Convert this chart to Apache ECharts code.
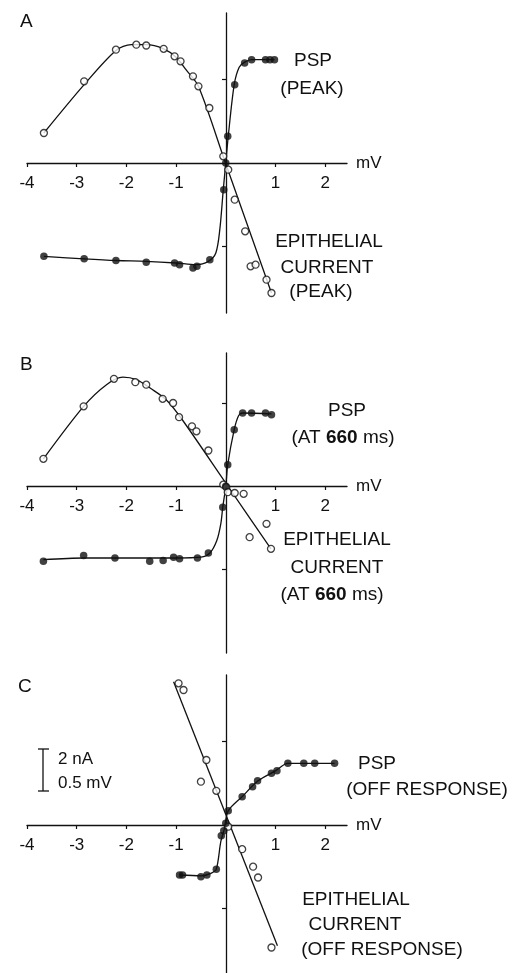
<!DOCTYPE html>
<html>
<head>
<meta charset="utf-8">
<script src="https://cdn.jsdelivr.net/npm/echarts@6/dist/echarts.min.js"></script>
<style>
  html, body { margin: 0; padding: 0; background: #fff; }
</style>
</head>
<body>
<div id="main" style="width: 515px; height: 973px"></div>
<script>
// axis ticks (mV on x, y in units of 1 mV = 4 nA)
const xTicks = [-4, -3, -2, -1, 0, 1, 2]
const xLabels = [-4, -3, -2, -1, 1, 2]
const yTicks = [-1, 1]

// A - peak
const aCurrentPts = [[-3.66, 0.36], [-2.85, 0.98], [-2.21, 1.36], [-1.80, 1.42], [-1.60, 1.41], [-1.25, 1.37], [-1.03, 1.28], [-0.91, 1.22], [-0.66, 1.04], [-0.55, 0.92], [-0.33, 0.66], [-0.05, 0.08], [0.05, -0.08], [0.18, -0.44], [0.39, -0.82], [0.50, -1.24], [0.60, -1.22], [0.82, -1.40], [0.92, -1.56]]
const aCurrentCurve = [[-3.66, 0.36], [-2.85, 0.94], [-2.21, 1.35], [-1.9, 1.42], [-1.6, 1.42], [-1.25, 1.37], [-1.0, 1.27], [-0.8, 1.12], [-0.55, 0.92], [0, -0.01], [0.92, -1.56]]
const aPspPts = [[-3.66, -1.12], [-2.85, -1.15], [-2.21, -1.17], [-1.60, -1.19], [-1.03, -1.20], [-0.93, -1.22], [-0.66, -1.26], [-0.58, -1.24], [-0.32, -1.16], [-0.04, -0.32], [0, 0], [0.04, 0.32], [0.18, 0.94], [0.38, 1.20], [0.52, 1.24], [0.80, 1.24], [0.89, 1.24], [0.98, 1.24]]
const aPspCurve = [[-3.66, -1.12], [-2.85, -1.15], [-2.2, -1.17], [-1.6, -1.18], [-1.0, -1.2], [-0.6, -1.22], [-0.35, -1.18], [-0.2, -1.08], [-0.12, -0.8], [-0.05, -0.32], [0, 0], [0.05, 0.32], [0.17, 0.94], [0.27, 1.15], [0.38, 1.21], [0.52, 1.24], [0.98, 1.24]]

// B - at 660 ms
const bCurrentPts = [[-3.67, 0.33], [-2.86, 0.96], [-2.25, 1.29], [-1.82, 1.25], [-1.60, 1.22], [-1.27, 1.05], [-1.06, 1.00], [-0.94, 0.83], [-0.68, 0.72], [-0.59, 0.66], [-0.35, 0.43], [-0.05, 0.02], [0.01, -0.01], [0.04, -0.07], [0.18, -0.08], [0.36, -0.09], [0.48, -0.61], [0.82, -0.45], [0.91, -0.75]]
const bCurrentCurve = [[-3.67, 0.33], [-2.86, 0.96], [-2.4, 1.22], [-2.07, 1.31], [-1.8, 1.28], [-1.5, 1.17], [-1.2, 1.04], [-0.9, 0.82], [0, 0.04], [0.91, -0.75]]
const bPspPts = [[-3.67, -0.90], [-2.86, -0.83], [-2.23, -0.86], [-1.53, -0.90], [-1.26, -0.89], [-1.05, -0.85], [-0.93, -0.87], [-0.57, -0.86], [-0.35, -0.80], [-0.06, -0.25], [0, 0], [0.04, 0.26], [0.17, 0.68], [0.34, 0.88], [0.52, 0.88], [0.80, 0.88], [0.92, 0.86]]
const bPspCurve = [[-3.67, -0.88], [-2.86, -0.86], [-2, -0.86], [-1, -0.86], [-0.5, -0.85], [-0.32, -0.8], [-0.18, -0.65], [-0.1, -0.45], [-0.06, -0.25], [0, 0], [0.04, 0.26], [0.17, 0.68], [0.26, 0.85], [0.34, 0.88], [0.92, 0.87]]

// C - off response
const cCurrentPts = [[-0.95, 1.70], [-0.85, 1.62], [-0.39, 0.78], [-0.50, 0.52], [-0.19, 0.41], [0.05, -0.02], [0.33, -0.29], [0.55, -0.50], [0.65, -0.63], [0.92, -1.47]]
const cCurrentCurve = [[-1.05, 1.72], [1.04, -1.45]]
const cPspPts = [[-0.93, -0.60], [-0.87, -0.60], [-0.50, -0.62], [-0.38, -0.60], [-0.19, -0.53], [-0.09, -0.13], [-0.04, -0.07], [0, 0.02], [0.05, 0.17], [0.33, 0.34], [0.54, 0.46], [0.64, 0.53], [0.92, 0.62], [1.03, 0.65], [1.25, 0.74], [1.57, 0.74], [1.79, 0.74], [2.19, 0.74]]
const cPspCurve = [[-0.93, -0.60], [-0.5, -0.61], [-0.3, -0.58], [-0.19, -0.53], [-0.1, -0.2], [-0.03, -0.05], [0.05, 0.17], [0.33, 0.34], [0.65, 0.53], [1.0, 0.65], [1.25, 0.74], [2.19, 0.74]]

const ink = '#111'
const font = 'Liberation Sans, Arial, sans-serif'

// offset moves the axis from the grid edge onto the zero line
function xAxisFor(i, offset) {
  return {
    gridIndex: i, type: 'value', min: -4, max: 2.44, position: 'bottom', offset: offset,
    name: 'mV', nameLocation: 'end', nameGap: 9,
    nameTextStyle: { color: ink, fontSize: 17, fontFamily: font },
    axisLine: { onZero: false, lineStyle: { color: ink, width: 1.3 } },
    axisTick: { customValues: xTicks, length: 4, lineStyle: { color: ink, width: 1.2 } },
    axisLabel: { customValues: xLabels, color: ink, fontSize: 17, fontFamily: font, margin: 12 },
    splitLine: { show: false },
  }
}

function yAxisFor(i, min, max) {
  return {
    gridIndex: i, type: 'value', min: min, max: max, position: 'left', offset: -199,
    axisLine: { show: true, onZero: false, lineStyle: { color: ink, width: 1.3 } },
    axisTick: { show: true, customValues: yTicks, length: 4, lineStyle: { color: ink, width: 1.2 } },
    axisLabel: { show: false },
    splitLine: { show: false },
  }
}

function panelSeries(i, curPts, curCurve, pspPts, pspCurve) {
  const line = (data) => ({
    type: 'line', xAxisIndex: i, yAxisIndex: i, data: data,
    smooth: 0.3, showSymbol: false, silent: true,
    lineStyle: { color: ink, width: 1.3 }, z: 2,
  })
  return [
    line(curCurve),
    line(pspCurve),
    {
      type: 'scatter', xAxisIndex: i, yAxisIndex: i, data: curPts,
      symbol: 'circle', symbolSize: 7,
      itemStyle: { color: '#fff', borderColor: ink, borderWidth: 1.3 }, z: 3,
    },
    {
      type: 'scatter', xAxisIndex: i, yAxisIndex: i, data: pspPts,
      symbol: 'circle', symbolSize: 7.5,
      itemStyle: { color: ink }, z: 4,
    },
  ]
}

function txt(x, y, text, size, align, rich) {
  return {
    type: 'text', x: x, y: y, silent: true,
    style: {
      text: text, fill: ink, font: size + 'px ' + font,
      align: align || 'center', verticalAlign: 'middle', rich: rich,
    },
  }
}

function drawChart(id) {
  const chart = echarts.init(document.getElementById(id))
  const bold = { b: { fontWeight: 'bold', fontSize: 19, fontFamily: font, fill: ink } }
  chart.setOption({
    animation: false,
    grid: [
      { left: 27, top: 13, width: 320, height: 300, outerBoundsMode: 'none' },
      { left: 27, top: 353, width: 320, height: 300, outerBoundsMode: 'none' },
      { left: 27, top: 675, width: 320, height: 300, outerBoundsMode: 'none' },
    ],
    xAxis: [xAxisFor(0, -150), xAxisFor(1, -167), xAxisFor(2, -150)],
    yAxis: [yAxisFor(0, -1.8, 1.8), yAxisFor(1, -2.0, 1.6), yAxisFor(2, -1.8, 1.8)],
    series: [].concat(
      panelSeries(0, aCurrentPts, aCurrentCurve, aPspPts, aPspCurve),
      panelSeries(1, bCurrentPts, bCurrentCurve, bPspPts, bPspCurve),
      panelSeries(2, cCurrentPts, cCurrentCurve, cPspPts, cPspCurve)
    ),
    graphic: [
      txt(20, 22, 'A', 19, 'left'),
      txt(20, 365, 'B', 19, 'left'),
      txt(18, 687, 'C', 19, 'left'),
      // panel A notes
      txt(313, 61, 'PSP', 19),
      txt(312, 89, '(PEAK)', 19),
      txt(329, 242, 'EPITHELIAL', 19),
      txt(327, 268, 'CURRENT', 19),
      txt(321, 292, '(PEAK)', 19),
      // panel B notes
      txt(347, 411, 'PSP', 19),
      txt(343, 438, '(AT {b|660} ms)', 19, 'center', bold),
      txt(337, 540, 'EPITHELIAL', 19),
      txt(337, 568, 'CURRENT', 19),
      txt(332, 595, '(AT {b|660} ms)', 19, 'center', bold),
      // panel C notes
      txt(377, 764, 'PSP', 19),
      txt(427, 790, '(OFF RESPONSE)', 19),
      txt(356, 900, 'EPITHELIAL', 19),
      txt(355, 925, 'CURRENT', 19),
      txt(382, 950, '(OFF RESPONSE)', 19),
      // scale bar
      { type: 'line', silent: true, shape: { x1: 43, y1: 749, x2: 43, y2: 791 }, style: { stroke: ink, lineWidth: 1.3 } },
      { type: 'line', silent: true, shape: { x1: 38, y1: 749, x2: 49, y2: 749 }, style: { stroke: ink, lineWidth: 1.3 } },
      { type: 'line', silent: true, shape: { x1: 38, y1: 791, x2: 49, y2: 791 }, style: { stroke: ink, lineWidth: 1.3 } },
      txt(58, 759, '2 nA', 17, 'left'),
      txt(58, 783, '0.5 mV', 17, 'left'),
    ],
  })
}

drawChart('main')
</script>
</body>
</html>
